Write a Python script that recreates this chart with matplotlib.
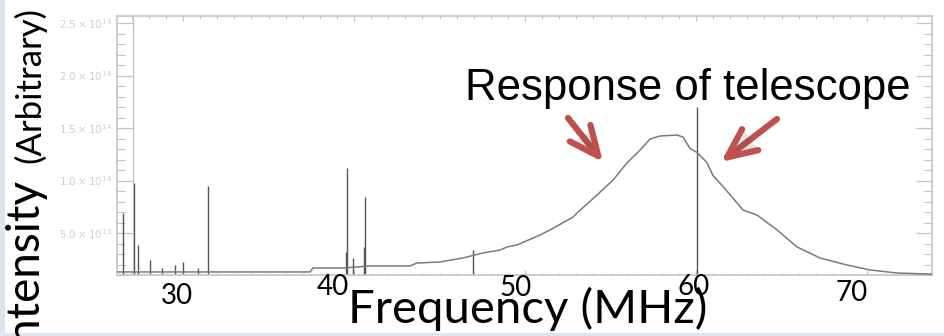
import matplotlib.pyplot as plt
import matplotlib.patheffects as pe
from matplotlib.patches import FancyArrowPatch, Rectangle
from matplotlib.ticker import MultipleLocator

# continuum of the spectrum (MHz, intensity in units of 1e14)
freq = [26.14, 33.92, 37.43, 37.60, 39.36, 40.94, 43.27, 43.68, 45.03, 46.37,
        47.54, 48.54, 48.95, 49.53, 50.88, 51.46, 52.81, 53.04, 54.21, 55.15,
        55.96, 56.73, 57.31, 57.89, 58.89, 59.24, 59.65, 60.06, 60.64, 60.99,
        61.58, 62.75, 63.57, 64.74, 65.91, 67.25, 68.83, 70.18, 71.75, 73.51,
        73.80]
intensity = [0.129, 0.129, 0.129, 0.167, 0.167, 0.186, 0.186, 0.214, 0.224, 0.262,
             0.310, 0.338, 0.367, 0.386, 0.481, 0.529, 0.652, 0.690, 0.862, 1.005,
             1.167, 1.290, 1.395, 1.424, 1.433, 1.414, 1.305, 1.267, 1.171, 1.048,
             0.943, 0.719, 0.671, 0.529, 0.367, 0.262, 0.195, 0.148, 0.119, 0.110,
             0.108]

# narrow RFI spikes
spike_freq = [26.49, 27.13, 27.37, 28.07, 28.77, 29.53, 30.00, 30.88, 31.46,
              39.53, 39.59, 39.94, 40.60, 40.64, 46.96, 60.06]
spike_top = [0.69, 0.976, 0.386, 0.243, 0.167, 0.195, 0.224, 0.167, 0.948,
             0.319, 1.119, 0.262, 0.367, 0.843, 0.338, 1.70]
# one spike runs off the top of the plot
clipped_freq = [27.08]
clipped_top = [3.0]

y_ticks = [0.5, 1.0, 1.5, 2.0, 2.5]
y_tick_labels = [r"$5.0\times10^{13}$", r"$1.0\times10^{14}$", r"$1.5\times10^{14}$",
                 r"$2.0\times10^{14}$", r"$2.5\times10^{14}$"]
x_ticks = [30, 40, 50, 60, 70]
overlay_labels = ["30", "40", "50", "60", "70"]

SCALE = 1e14
FAINT = "#c4c4c4"
RED = "#c0504d"

fig = plt.figure(figsize=(9.45, 3.36), dpi=100)
fig.patch.set_facecolor("white")


def px(x, y):
    # pixel position on the slide -> inches from bottom left
    return x / 100, (336 - y) / 100


# light blue slide edges
fig.patches.append(Rectangle((0, 0), 5 / 945, 1, transform=fig.transFigure,
                             facecolor="#dce6f2", edgecolor="none", zorder=0))
fig.patches.append(Rectangle((0, 0), 1, 3 / 336, transform=fig.transFigure,
                             facecolor="#dce6f2", edgecolor="none", zorder=0))

ax = fig.add_axes([117 / 945, 61 / 336, 815 / 945, 259 / 336])
ax.plot(freq, [v * SCALE for v in intensity], color="#7a7a7a", lw=1.1, zorder=3)
ax.vlines(spike_freq, 0.10 * SCALE, [v * SCALE for v in spike_top],
          color="#555555", lw=1.0, zorder=2)
ax.vlines(clipped_freq, 0.10 * SCALE, [v * SCALE for v in clipped_top],
          color="#bbbbbb", lw=0.8, zorder=2)

ax.set_xlim(26.14, 73.80)
ax.set_ylim(0.10 * SCALE, 2.567 * SCALE)

for s in ax.spines.values():
    s.set_color(FAINT)
    s.set_linewidth(1.2)

ax.set_yticks([v * SCALE for v in y_ticks])
ax.set_yticklabels(y_tick_labels)
ax.yaxis.set_minor_locator(MultipleLocator(0.1 * SCALE))
# the original axis numbers are hidden under the slide's own labels
ax.set_xticks(x_ticks)
ax.set_xticklabels([])
ax.xaxis.set_minor_locator(MultipleLocator(1))
ax.tick_params(axis="y", which="major", direction="in", length=11.5, width=0.9,
               color=FAINT, labelcolor="#cfcfcf", labelsize=7.5, pad=3.5,
               right=True)
ax.tick_params(axis="y", which="minor", direction="in", length=5.5, width=0.8,
               color=FAINT, right=True)
ax.tick_params(axis="x", which="major", direction="in", length=3.6, width=0.9,
               color=FAINT, top=True)
ax.tick_params(axis="x", which="minor", direction="in", length=1.8, width=0.8,
               color=FAINT, top=True)

# slide annotations on top of the plot image
label_pos = [(177, 296), (333, 287), (516, 288), (694, 287), (852, 293)]
for lab, (x, y) in zip(overlay_labels, label_pos):
    fig.text(*px(x, y), lab, transform=fig.dpi_scale_trans, family="Lato",
             fontsize=20, ha="center", va="center", color="black")

fig.text(*px(348, 323), "Frequency (MHz)", transform=fig.dpi_scale_trans,
         family="Lato", fontsize=34, ha="left", va="baseline")
fig.text(*px(36, 352), "Intensity", transform=fig.dpi_scale_trans,
         family="Lato", fontsize=33, rotation=90, rotation_mode="anchor",
         ha="left", va="baseline")
fig.text(*px(40, 163), "(Arbitrary)", transform=fig.dpi_scale_trans,
         family="Lato", fontsize=25, rotation=90, rotation_mode="anchor",
         ha="left", va="baseline")
fig.text(*px(465, 100), "Response of telescope", transform=fig.dpi_scale_trans,
         family="Liberation Sans", fontsize=31.5, ha="left", va="baseline")

for tail, tip in [((568, 118), (603, 162)), ((777, 119), (721, 162))]:
    arrow = FancyArrowPatch(px(*tail), px(*tip), transform=fig.dpi_scale_trans,
                            arrowstyle="->,head_length=2.1,head_width=0.95",
                            mutation_scale=10, lw=4.5, color=RED,
                            capstyle="round", joinstyle="round",
                            shrinkA=0, shrinkB=0)
    arrow.set_path_effects([pe.SimplePatchShadow(offset=(2, -2), alpha=0.15),
                            pe.Normal()])
    fig.add_artist(arrow)

fig.savefig("out.png", dpi=100)
